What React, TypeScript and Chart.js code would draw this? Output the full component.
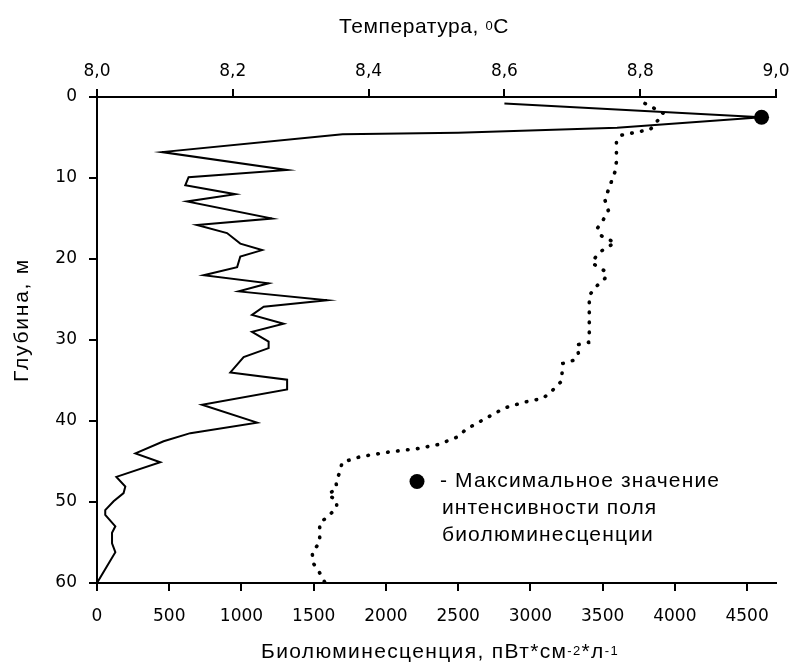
import React, { useEffect, useRef } from "react";
import { Chart, registerables } from "chart.js";

Chart.register(...registerables);

// ---- Data ----
// Bioluminescence profile (bottom axis, pW*cm^-2*l^-1) vs depth (m)
const bioDepth = [0.8, 2.5, 3.8, 4.4, 4.6, 6.8, 9.0, 9.9, 10.9, 12.0, 12.9, 15.0, 15.8, 16.8, 18.1, 18.9, 19.7, 21.0, 22.0, 23.0, 24.0, 25.1, 25.9, 26.9, 28.0, 29.0, 30.2, 31.0, 32.1, 34.0, 34.9, 36.1, 38.0, 40.2, 41.5, 42.5, 44.0, 45.1, 46.9, 48.1, 48.9, 49.9, 51.0, 51.6, 53.0, 53.8, 55.1, 56.2, 60.0];
const bioValue = [2820, 4600, 3600, 2500, 1700, 450, 1316, 634, 611, 958, 623, 1212, 692, 900, 992, 1143, 992, 970, 738, 1188, 981, 1593, 1154, 1073, 1292, 1073, 1188, 1188, 1015, 923, 1316, 1316, 727, 1108, 646, 461, 266, 438, 134, 196, 184, 115, 57, 57, 127, 104, 104, 127, 0];

// Temperature profile (top axis, °C) vs depth (m)
const tempDepth = [0.8, 2.0, 3.1, 4.0, 4.7, 5.5, 8.0, 9.2, 11.5, 12.7, 14.0, 15.1, 16.2, 17.1, 18.0, 18.7, 19.4, 20.5, 21.6, 22.4, 23.4, 24.5, 29.2, 30.3, 30.6, 31.7, 32.5, 32.9, 35.1, 36.2, 37.2, 37.7, 38.4, 39.7, 41.0, 42.0, 42.9, 43.4, 43.8, 44.4, 45.1, 46.2, 47.5, 48.3, 49.1, 49.8, 50.7, 51.8, 52.6, 55.0, 56.2, 57.5, 58.6, 60.0];
const tempValue = [8.807, 8.834, 8.824, 8.815, 8.773, 8.765, 8.765, 8.763, 8.753, 8.748, 8.753, 8.746, 8.737, 8.742, 8.763, 8.748, 8.737, 8.729, 8.75, 8.748, 8.735, 8.725, 8.725, 8.724, 8.707, 8.709, 8.702, 8.686, 8.684, 8.671, 8.657, 8.628, 8.6, 8.572, 8.544, 8.53, 8.503, 8.473, 8.432, 8.388, 8.361, 8.358, 8.352, 8.353, 8.34, 8.353, 8.353, 8.34, 8.328, 8.328, 8.317, 8.318, 8.327, 8.336];

// Maximum of the bioluminescence field
const peakValue = [4600];
const peakDepth = [2.5];

// Axis ranges and tick values
const bioMin = 0, bioMax = 4700;
const bioTicks = [0, 500, 1000, 1500, 2000, 2500, 3000, 3500, 4000, 4500];
const tempMin = 8.0, tempMax = 9.0;
const tempTicks = [8.0, 8.2, 8.4, 8.6, 8.8, 9.0];
const depthMin = 0, depthMax = 60;
const depthTicks = [0, 10, 20, 30, 40, 50, 60];

const topTitle = [{ t: "Температура, " }, { t: "0", sup: true }, { t: "C" }];
const bottomTitle = [
  { t: "Биолюминесценция, пВт*см" }, { t: "-2", sup: true }, { t: "*л" }, { t: "-1", sup: true },
];
const leftTitle = [{ t: "Глубина, м" }];
const legendLines = ["- Максимальное значение", "интенсивности поля", "биолюминесценции"];

const W = 789;
const H = 664;
const TITLE_FONT = '"Liberation Sans", Arial, sans-serif';
const TICK_FONT = { family: '"DejaVu Sans", Verdana, sans-serif', size: 17 };

type Seg = { t: string; sup?: boolean };

function drawRich(
  ctx: CanvasRenderingContext2D,
  segs: Seg[],
  x: number,
  baseline: number,
  target: number,
  size: number,
  align: "center" | "left"
) {
  const main = `${size}px ${TITLE_FONT}`;
  const supF = `${Math.round(size * 0.6)}px ${TITLE_FONT}`;
  const c: any = ctx;
  c.letterSpacing = "0px";
  const widths: number[] = [];
  let nat = 0;
  let n = 0;
  for (const s of segs) {
    ctx.font = s.sup ? supF : main;
    const w = ctx.measureText(s.t).width;
    widths.push(w);
    nat += w;
    n += Array.from(s.t).length;
  }
  const extra = target > 0 ? Math.max(0, (target - nat) / n) : 0;
  const total = nat + extra * n;
  let cx = align === "center" ? x - total / 2 : x;
  ctx.textAlign = "left";
  ctx.textBaseline = "alphabetic";
  ctx.fillStyle = "#000";
  c.letterSpacing = extra.toFixed(2) + "px";
  segs.forEach((s, i) => {
    ctx.font = s.sup ? supF : main;
    ctx.fillText(s.t, cx, s.sup ? baseline - 3 : baseline);
    cx += widths[i] + extra * Array.from(s.t).length;
  });
  c.letterSpacing = "0px";
}

const textLayer = {
  id: "textLayer",
  afterDraw(chart: any) {
    const ctx: CanvasRenderingContext2D = chart.ctx;
    ctx.save();
    // top axis title
    drawRich(ctx, topTitle, 424, 33, 170, 21, "center");
    // bottom axis title
    drawRich(ctx, bottomTitle, 440, 658, 358, 21, "center");
    // left axis title (rotated)
    ctx.save();
    ctx.translate(28, 320);
    ctx.rotate(-Math.PI / 2);
    drawRich(ctx, leftTitle, 0, 0, 124, 21, "center");
    ctx.restore();
    // legend note
    ctx.beginPath();
    ctx.arc(417, 481.5, 7.5, 0, Math.PI * 2);
    ctx.fillStyle = "#000";
    ctx.fill();
    const legendTargets = [280, 215, 212];
    const legendBase = [486.5, 514, 540.5];
    legendLines.forEach((t, i) => {
      drawRich(ctx, [{ t }], i === 0 ? 440 : 442, legendBase[i], legendTargets[i], 21, "left");
    });
    ctx.restore();
  },
};

function fixedTicks(values: number[]) {
  return (scale: any) => {
    scale.ticks = values.map((v) => ({ value: v }));
  };
}

function fixSize(prop: "width" | "height", size: number) {
  return (s: any) => {
    s[prop] = size;
    s.paddingLeft = 0;
    s.paddingRight = 0;
    s.paddingTop = 0;
    s.paddingBottom = 0;
  };
}

export default function App() {
  const ref = useRef<HTMLCanvasElement>(null);

  useEffect(() => {
    document.body.style.margin = "0";
    const canvas = ref.current;
    if (!canvas) return;

    const bioData = bioValue.map((v, i) => ({ x: v, y: bioDepth[i] }));
    const tempData = tempValue.map((v, i) => ({ x: v, y: tempDepth[i] }));
    const peakData = peakValue.map((v, i) => ({ x: v, y: peakDepth[i] }));

    const tickCommon = {
      font: TICK_FONT,
      color: "#000",
      autoSkip: false,
      maxRotation: 0,
      minRotation: 0,
    };
    const gridCommon = {
      drawOnChartArea: false,
      drawTicks: true,
      tickLength: 8,
      color: "#000",
      lineWidth: 2,
    };
    const borderCommon = { display: true, color: "#000", width: 2 };

    const chart = new Chart(canvas, {
      type: "scatter",
      data: {
        datasets: [
          {
            label: "Максимальное значение интенсивности поля биолюминесценции",
            data: peakData,
            xAxisID: "x",
            yAxisID: "y",
            pointRadius: 7.5,
            pointBackgroundColor: "#000",
            pointBorderWidth: 0,
            showLine: false,
          } as any,
          {
            label: "Биолюминесценция",
            data: bioData,
            xAxisID: "x",
            yAxisID: "y",
            showLine: true,
            borderColor: "#000",
            borderWidth: 2,
            pointRadius: 0,
            tension: 0,
            fill: false,
          },
          {
            label: "Температура",
            data: tempData,
            xAxisID: "x2",
            yAxisID: "y",
            showLine: true,
            borderColor: "#000",
            borderWidth: 3.6,
            borderDash: [0.5, 9.5],
            borderCapStyle: "round",
            pointRadius: 0,
            tension: 0,
            fill: false,
          },
        ],
      },
      options: {
        responsive: false,
        animation: false,
        devicePixelRatio: 1,
        events: [],
        layout: { padding: { left: 0, right: 13, top: 0, bottom: 0 } },
        plugins: {
          legend: { display: false },
          tooltip: { enabled: false },
          title: { display: false },
        },
        scales: {
          x: {
            type: "linear",
            position: "bottom",
            min: bioMin,
            max: bioMax,
            afterBuildTicks: fixedTicks(bioTicks),
            ticks: {
              ...tickCommon,
              padding: 15,
              callback: (v: any) => String(v),
            },
            grid: gridCommon,
            border: borderCommon,
            afterFit: fixSize("height", 81),
          },
          x2: {
            type: "linear",
            position: "top",
            min: tempMin,
            max: tempMax,
            afterBuildTicks: fixedTicks(tempTicks),
            ticks: {
              ...tickCommon,
              padding: 7,
              callback: (v: any) => Number(v).toFixed(1).replace(".", ","),
            },
            grid: gridCommon,
            border: borderCommon,
            afterFit: fixSize("height", 97),
          },
          y: {
            type: "linear",
            position: "left",
            reverse: true,
            min: depthMin,
            max: depthMax,
            afterBuildTicks: fixedTicks(depthTicks),
            ticks: {
              ...tickCommon,
              padding: 12,
              callback: (v: any) => String(v),
            },
            grid: gridCommon,
            border: borderCommon,
            afterFit: fixSize("width", 97),
          },
        },
      } as any,
      plugins: [textLayer],
    });

    return () => chart.destroy();
  }, []);

  return (
    <div style={{ position: "absolute", left: 0, top: 0, width: W, height: H, background: "#fff" }}>
      <canvas ref={ref} width={W} height={H} style={{ display: "block", width: W, height: H }} />
    </div>
  );
}
